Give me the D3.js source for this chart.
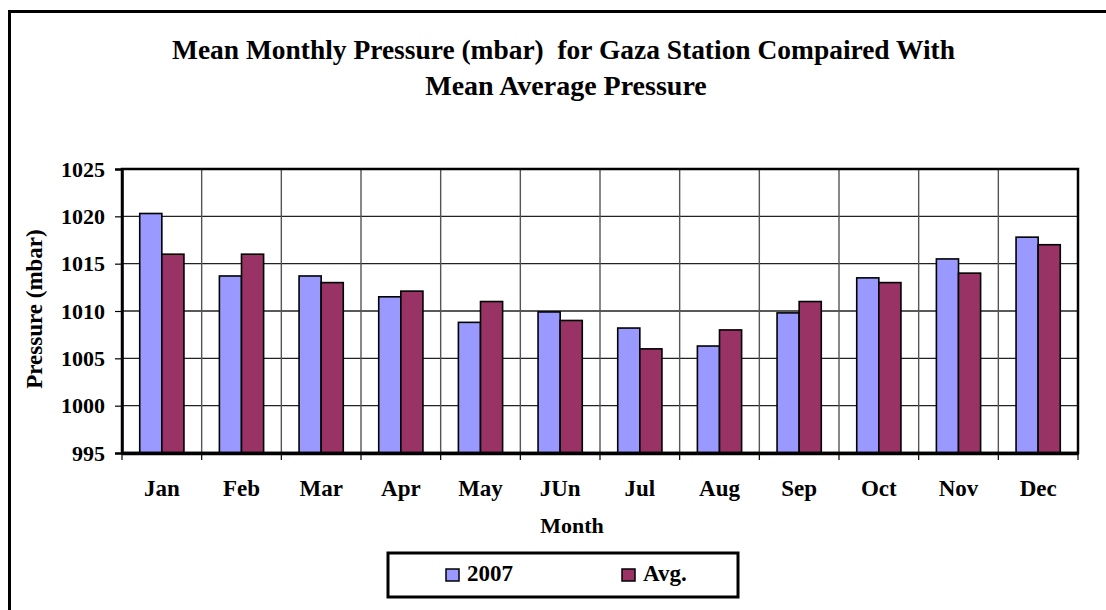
<!DOCTYPE html>
<html>
<head>
<meta charset="utf-8">
<script src="https://cdnjs.cloudflare.com/ajax/libs/d3/7.8.5/d3.min.js"></script>
<style>
  body { margin: 0; background: #fff; }
  text { font-family: "Liberation Serif", "Times New Roman", serif; font-weight: bold; fill: #000; }
</style>
</head>
<body>
<svg id="chart" width="1106" height="610"></svg>
<script>
// chart values
var months = ["Jan", "Feb", "Mar", "Apr", "May", "JUn", "Jul", "Aug", "Sep", "Oct", "Nov", "Dec"]
var series = ["2007", "Avg."]
var values2007 = [1020.3, 1013.7, 1013.7, 1011.5, 1008.8, 1009.9, 1008.2, 1006.3, 1009.8, 1013.5, 1015.5, 1017.8]
var valuesAvg = [1016.0, 1016.0, 1013.0, 1012.1, 1011.0, 1009.0, 1006.0, 1008.0, 1011.0, 1013.0, 1014.0, 1017.0]
var yTicks = [995, 1000, 1005, 1010, 1015, 1020, 1025]
var colors = ["#9999ff", "#993366"]

var rows = months.map(function(m, i) {
  return { month: m, vals: [values2007[i], valuesAvg[i]] }
})

var svg = d3.select("#chart")

// outer chart border (only top and left visible)
svg.append("path")
  .attr("d", "M9.5,610 V11.5 H1106")
  .attr("fill", "none")
  .attr("stroke", "#000")
  .attr("stroke-width", 3)

// title
svg.append("text")
  .attr("x", 563.5).attr("y", 59)
  .attr("text-anchor", "middle")
  .style("font-size", "28px")
  .attr("textLength", 783).attr("lengthAdjust", "spacingAndGlyphs")
  .style("white-space", "pre")
  .text("Mean Monthly Pressure (mbar)  for Gaza Station Compaired With")
svg.append("text")
  .attr("x", 566).attr("y", 95)
  .attr("text-anchor", "middle")
  .style("font-size", "28px")
  .text("Mean Average Pressure")

var plotL = 122, plotR = 1078, plotT = 169, plotB = 453

var x = d3.scaleBand().domain(months).range([plotL, plotR])
  .paddingInner(0.445).paddingOuter(0.2225)
var xb = d3.scaleBand().domain(months).range([plotL, plotR])
var xs = d3.scaleBand().domain(series).range([0, x.bandwidth()])
var y = d3.scaleLinear().domain([995, 1025]).range([plotB, plotT])

// horizontal grid
svg.append("g")
  .selectAll("line")
  .data(yTicks.slice(1, -1))
  .enter().append("line")
  .attr("x1", plotL).attr("x2", plotR)
  .attr("y1", function(d) { return y(d) }).attr("y2", function(d) { return y(d) })
  .attr("stroke", "#222").attr("stroke-width", 1.4)

// vertical grid at category boundaries
svg.append("g")
  .selectAll("line")
  .data(months.slice(1))
  .enter().append("line")
  .attr("x1", function(d) { return xb(d) }).attr("x2", function(d) { return xb(d) })
  .attr("y1", plotT).attr("y2", plotB)
  .attr("stroke", "#555").attr("stroke-width", 1.4)

// bars
var groups = svg.append("g")
  .selectAll("g")
  .data(rows)
  .enter().append("g")
  .attr("transform", function(d) { return "translate(" + x(d.month) + ",0)" })

groups.selectAll("rect")
  .data(function(d) { return d.vals.map(function(v, i) { return { s: series[i], v: v, i: i } }) })
  .enter().append("rect")
  .attr("x", function(d) { return xs(d.s) })
  .attr("width", xs.bandwidth())
  .attr("y", function(d) { return y(d.v) })
  .attr("height", function(d) { return plotB - y(d.v) })
  .attr("fill", function(d) { return colors[d.i] })
  .attr("stroke", "#000")
  .attr("stroke-width", 1.6)

// plot frame
svg.append("rect")
  .attr("x", plotL).attr("y", plotT)
  .attr("width", plotR - plotL).attr("height", plotB - plotT)
  .attr("fill", "none").attr("stroke", "#000").attr("stroke-width", 2.5)

// y axis
var yAxis = d3.axisLeft(y).tickValues(yTicks).tickFormat(d3.format("d")).tickSize(7).tickPadding(10)
var gy = svg.append("g")
  .attr("transform", "translate(" + plotL + ",0)")
  .call(yAxis)
gy.select(".domain").attr("stroke-width", 2.5)
gy.selectAll(".tick line").attr("stroke-width", 1.2)
gy.selectAll("text")
  .style("font-family", "Liberation Serif, serif")
  .style("font-weight", "bold")
  .style("font-size", "22px")

// x axis: ticks on category boundaries, labels centred
var xAxis = d3.axisBottom(x).tickSize(0).tickPadding(27)
var gx = svg.append("g")
  .attr("transform", "translate(0," + plotB + ")")
  .call(xAxis)
gx.select(".domain").attr("stroke-width", 3.5)
gx.selectAll("text")
  .style("font-family", "Liberation Serif, serif")
  .style("font-weight", "bold")
  .style("font-size", "23px")

svg.append("g")
  .selectAll("line")
  .data(months.concat(["end"]))
  .enter().append("line")
  .attr("x1", function(d, i) { return i < 12 ? xb(d) : plotR })
  .attr("x2", function(d, i) { return i < 12 ? xb(d) : plotR })
  .attr("y1", plotB).attr("y2", plotB + 7)
  .attr("stroke", "#000").attr("stroke-width", 1.2)

// axis titles
svg.append("text")
  .attr("transform", "translate(42,309) rotate(-90)")
  .attr("text-anchor", "middle")
  .style("font-size", "23px")
  .text("Pressure (mbar)")

svg.append("text")
  .attr("x", 572).attr("y", 533)
  .attr("text-anchor", "middle")
  .style("font-size", "22px")
  .text("Month")

// legend
var legend = svg.append("g")
legend.append("rect")
  .attr("x", 388).attr("y", 553)
  .attr("width", 350).attr("height", 44)
  .attr("fill", "#fff").attr("stroke", "#000").attr("stroke-width", 3)

var legendX = [446, 622]
var items = legend.selectAll("g.item")
  .data(series)
  .enter().append("g")
  .attr("class", "item")
  .attr("transform", function(d, i) { return "translate(" + legendX[i] + ",569)" })
items.append("rect")
  .attr("width", 13).attr("height", 12)
  .attr("fill", function(d, i) { return colors[i] })
  .attr("stroke", "#000").attr("stroke-width", 1.5)
items.append("text")
  .attr("x", 21).attr("y", 12)
  .style("font-size", "23px")
  .text(function(d) { return d })
</script>
</body>
</html>
